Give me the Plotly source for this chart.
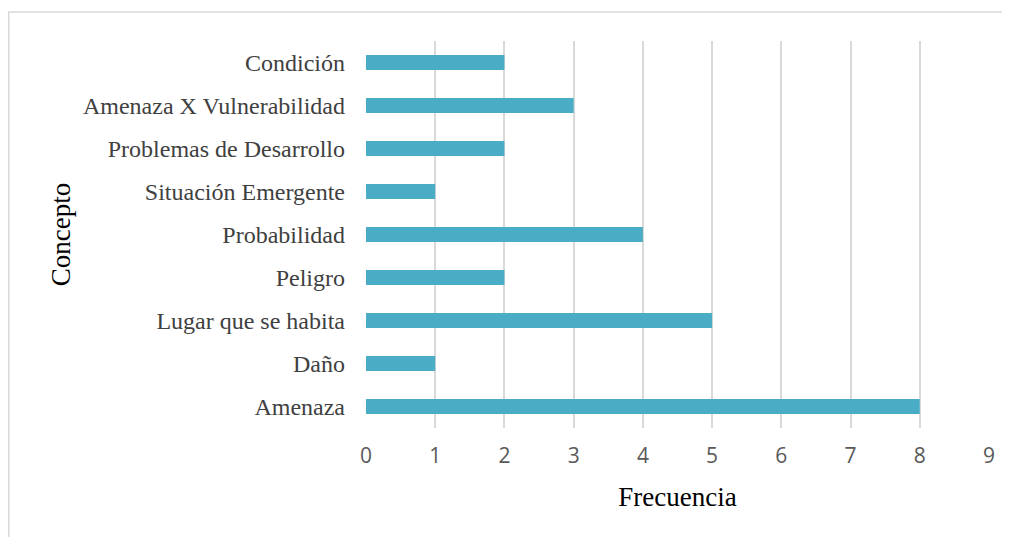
import plotly.graph_objects as go

conceptos = ["Amenaza", "Daño", "Lugar que se habita", "Peligro", "Probabilidad",
             "Situación Emergente", "Problemas de Desarrollo",
             "Amenaza X Vulnerabilidad", "Condición"]
frecuencia = [8, 1, 5, 2, 4, 1, 2, 3, 2]
x_ticks = list(range(0, 10))

# page has an 8px body margin, so the figure is laid out 8px shifted
W, H = 1010, 537
L, R, T, B = 358, 29, 33, 117
pw, ph = W - L - R, H - T - B

def px_x(v):
    return (v - L) / pw

def px_y(v):
    return (H - B - v) / ph

fig = go.Figure(go.Bar(
    x=frecuencia, y=conceptos, orientation="h",
    marker=dict(color="#4BACC6", line=dict(width=0)),
    width=0.35,
))

fig.update_layout(
    width=W, height=H,
    margin=dict(l=L, r=R, t=T, b=B),
    paper_bgcolor="white", plot_bgcolor="white",
    showlegend=False,
)
fig.update_xaxes(
    range=[0, 9], tickvals=x_ticks, showgrid=True, gridcolor="#D9D9D9", gridwidth=1.5,
    zeroline=False, showline=False, ticks="",
    tickfont=dict(family="Open Sans", size=21, color="#595959"),
    ticklabelstandoff=13,
    title=dict(text="Frecuencia", font=dict(family="Liberation Serif", size=27, color="black"),
               standoff=19),
)
fig.update_yaxes(
    categoryorder="array", categoryarray=conceptos,
    showgrid=False, zeroline=False, showline=False, ticks="",
    tickfont=dict(family="Liberation Serif", size=24, color="#404040"),
    ticklabelstandoff=20,
    title=dict(text="Concepto", font=dict(family="Liberation Serif", size=27, color="black"),
               standoff=4),
)

border = dict(color="#D9D9D9", width=1.5)
fig.add_shape(type="line", xref="paper", yref="paper",
              x0=px_x(0), x1=px_x(1010), y0=px_y(4), y1=px_y(4), line=border)
fig.add_shape(type="line", xref="paper", yref="paper",
              x0=px_x(0.75), x1=px_x(0.75), y0=px_y(4), y1=px_y(537), line=border)

fig.write_html("out.html")
